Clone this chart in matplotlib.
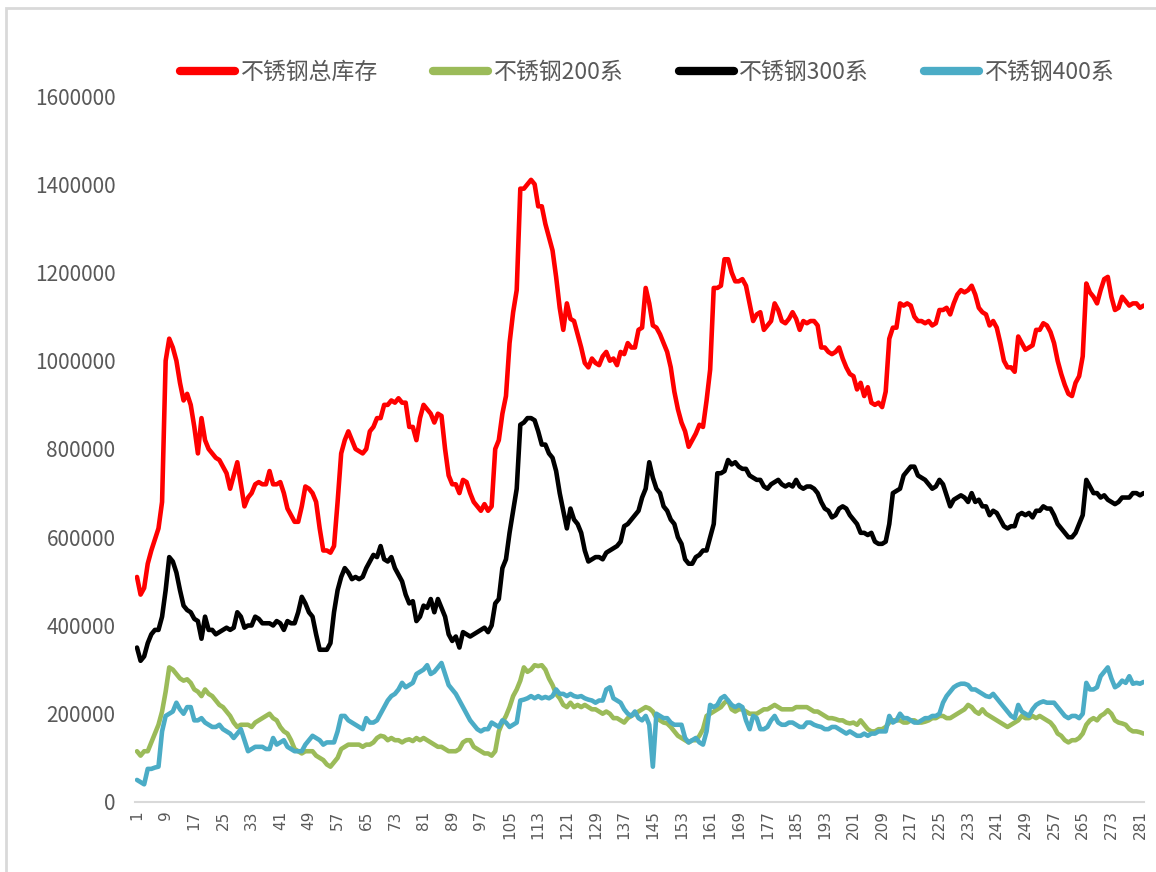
import matplotlib
matplotlib.use('Agg')
import matplotlib.pyplot as plt
import matplotlib.patches as patches
import matplotlib.ticker as ticker
import numpy as np

plt.rcParams['font.family'] = ['Noto Sans CJK SC', 'DejaVu Sans']

# 数据单位：千吨 -> 绘图时 *1000
total = [510, 470, 485, 540, 570, 595, 620, 680, 1000, 1050,
         1030, 1000, 950, 910, 925, 900, 850, 790, 870, 820,
         800, 790, 780, 775, 760, 745, 710, 740, 770, 720,
         670, 690, 700, 720, 725, 720, 720, 750, 720, 720,
         725, 700, 665, 650, 635, 635, 670, 715, 710, 700,
         680, 620, 570, 570, 565, 580, 680, 790, 820, 840,
         820, 800, 795, 790, 800, 840, 850, 870, 870, 900,
         900, 910, 905, 915, 905, 905, 850, 850, 820, 870,
         900, 890, 880, 860, 880, 875, 800, 740, 720, 720,
         700, 730, 725, 700, 680, 670, 660, 675, 660, 670,
         800, 820, 880, 920, 1040, 1110, 1160, 1390, 1390, 1400,
         1410, 1400, 1350, 1350, 1310, 1280, 1250, 1190, 1120, 1070,
         1130, 1095, 1090, 1060, 1030, 995, 985, 1005, 995, 990,
         1010, 1020, 1000, 1005, 990, 1020, 1015, 1040, 1030, 1030,
         1070, 1075, 1165, 1130, 1080, 1075, 1060, 1040, 1020, 985,
         930, 890, 860, 840, 805, 820, 835, 855, 850, 910,
         980, 1165, 1165, 1170, 1230, 1230, 1200, 1180, 1180, 1185,
         1170, 1130, 1090, 1105, 1110, 1070, 1080, 1090, 1130, 1115,
         1090, 1085, 1095, 1110, 1095, 1070, 1090, 1085, 1090, 1090,
         1080, 1030, 1030, 1020, 1015, 1020, 1030, 1005, 985, 970,
         965, 935, 950, 920, 940, 905, 900, 905, 895, 930,
         1050, 1075, 1075, 1130, 1125, 1130, 1125, 1100, 1090, 1090,
         1085, 1090, 1080, 1085, 1115, 1115, 1120, 1105, 1130, 1150,
         1160, 1155, 1160, 1170, 1150, 1120, 1110, 1105, 1080, 1090,
         1075, 1040, 1000, 985, 985, 975, 1055, 1040, 1025, 1030,
         1035, 1070, 1070, 1085, 1080, 1065, 1040, 1000, 970, 945,
         925, 920, 950, 965, 1010, 1175, 1155, 1145, 1130, 1160,
         1185, 1190, 1145, 1115, 1120, 1145, 1135, 1125, 1130, 1130,
         1120, 1125]

s200 = [115, 105, 115, 115, 135, 155, 175, 205, 250, 305,
        300, 290, 280, 275, 278, 270, 255, 250, 240, 255,
        245, 240, 230, 220, 215, 205, 195, 180, 170, 175,
        175, 175, 170, 180, 185, 190, 195, 200, 190, 185,
        170, 160, 155, 140, 120, 115, 110, 115, 115, 115,
        105, 100, 95, 85, 80, 90, 100, 120, 125, 130,
        130, 130, 130, 125, 130, 130, 135, 145, 150, 148,
        140, 145, 140, 140, 135, 140, 142, 138, 145, 140,
        145, 140, 135, 130, 125, 125, 120, 115, 115, 115,
        120, 135, 140, 140, 125, 120, 115, 110, 110, 105,
        115, 160, 180, 195, 215, 240, 255, 275, 305, 295,
        300, 310, 308, 310, 300, 280, 265, 245, 235, 220,
        215, 225, 215, 220, 215, 220, 215, 210, 210, 205,
        200, 205, 200, 190, 190, 185, 180, 190, 195, 200,
        205, 210, 215, 212, 205, 190, 185, 180, 178, 170,
        160, 150, 145, 140, 135, 140, 140, 150, 165, 195,
        200, 205, 210, 215, 225, 230, 210, 205, 210, 210,
        205, 200, 200, 200, 205, 210, 210, 215, 220, 215,
        210, 210, 210, 210, 215, 215, 215, 215, 210, 205,
        205, 200, 195, 190, 190, 188, 185, 185, 180, 178,
        180, 175, 185, 175, 165, 160, 160, 165, 165, 170,
        180, 185, 185, 185, 180, 180, 185, 185, 180, 180,
        182, 185, 190, 190, 195, 195, 190, 190, 195, 200,
        205, 210, 220, 215, 205, 200, 210, 200, 195, 190,
        185, 180, 175, 170, 175, 180, 185, 195, 190, 190,
        195, 190, 195, 190, 185, 180, 170, 155, 150, 140,
        135, 140, 140, 145, 155, 175, 185, 190, 185, 195,
        200, 208, 200, 185, 180, 178, 175, 165, 160, 160,
        158, 155]

s300 = [350, 320, 330, 360, 380, 390, 390, 420, 480, 555,
        545, 520, 480, 445, 435, 430, 415, 410, 370, 420,
        390, 390, 380, 385, 390, 395, 390, 395, 430, 420,
        395, 400, 400, 420, 415, 405, 405, 405, 400, 410,
        405, 390, 410, 405, 405, 430, 465, 450, 430, 420,
        380, 345, 345, 345, 360, 430, 480, 510, 530, 520,
        505, 510, 505, 510, 530, 545, 560, 555, 580, 550,
        545, 555, 530, 515, 500, 470, 450, 455, 410, 420,
        445, 440, 460, 430, 460, 440, 420, 380, 365, 375,
        350, 385, 380, 375, 380, 385, 390, 395, 385, 400,
        450, 460, 530, 550, 610, 660, 710, 855, 860, 870,
        870, 865, 840, 810, 810, 790, 780, 750, 700, 660,
        620, 665, 640, 630, 610, 570, 545, 550, 555, 555,
        550, 565, 570, 575, 580, 590, 625, 630, 640, 650,
        660, 690, 710, 770, 735, 710, 700, 670, 660, 640,
        630, 600, 585, 550, 540, 540, 555, 560, 570, 570,
        600, 630, 745, 745, 750, 775, 765, 770, 760, 755,
        755, 740, 735, 730, 730, 715, 710, 720, 725, 730,
        720, 715, 720, 715, 730, 715, 710, 715, 715, 710,
        700, 680, 665, 660, 645, 650, 665, 670, 665, 650,
        640, 630, 610, 610, 605, 610, 590, 585, 585, 590,
        630, 700, 705, 710, 740, 750, 760, 760, 740, 735,
        730, 720, 710, 715, 730, 720, 695, 670, 685, 690,
        695, 690, 680, 700, 680, 685, 670, 670, 650, 660,
        655, 640, 625, 620, 625, 625, 650, 655, 650, 655,
        645, 660, 660, 670, 665, 665, 650, 630, 620, 610,
        600, 600, 610, 630, 650, 730, 715, 700, 700, 690,
        695, 685, 680, 675, 680, 690, 690, 690, 700, 700,
        695, 700]

s400 = [50, 45, 40, 75, 75, 78, 80, 160, 195, 200,
        205, 225, 210, 200, 215, 215, 185, 185, 190, 180,
        175, 170, 170, 175, 165, 160, 155, 145, 155, 165,
        140, 115, 120, 125, 125, 125, 120, 120, 145, 130,
        135, 140, 125, 120, 115, 115, 115, 130, 140, 150,
        145, 140, 130, 135, 135, 135, 160, 195, 195, 185,
        180, 175, 170, 165, 190, 180, 180, 185, 200, 215,
        230, 240, 245, 255, 270, 260, 265, 270, 290, 295,
        300, 310, 290, 295, 305, 315, 290, 265, 255, 245,
        230, 215, 200, 185, 175, 165, 160, 165, 165, 180,
        175, 170, 185, 180, 170, 175, 180, 230, 232, 235,
        240, 235, 240, 235, 238, 235, 240, 255, 245, 245,
        240, 245, 240, 238, 240, 235, 232, 230, 225, 230,
        230, 255, 260, 235, 230, 225, 210, 200, 195, 205,
        190, 185, 195, 175, 80, 200, 195, 190, 190, 180,
        175, 175, 175, 145, 135, 140, 145, 135, 130, 160,
        220, 215, 220, 235, 240, 230, 220, 215, 220, 215,
        185, 165, 195, 190, 165, 165, 170, 185, 195, 180,
        175, 175, 180, 180, 175, 170, 170, 180, 180, 175,
        172, 170, 165, 165, 170, 170, 165, 160, 155, 160,
        155, 150, 150, 155, 150, 155, 155, 160, 160, 160,
        195, 180, 185, 200, 190, 190, 185, 180, 180, 185,
        190, 190, 195, 195, 200, 225, 240, 250, 260, 265,
        268, 268, 265, 255, 255, 250, 245, 240, 238, 245,
        235, 225, 215, 205, 195, 190, 220, 205, 200, 195,
        210, 220, 225, 228, 225, 225, 225, 215, 205, 195,
        190, 195, 195, 190, 200, 270, 255, 255, 260, 285,
        295, 305, 280, 260, 265, 275, 270, 285, 268, 270,
        268, 272]

labels = ['不锈钢总库存', '不锈钢200系', '不锈钢300系', '不锈钢400系']
colors = ['#ff0000', '#9bbb59', '#000000', '#4bacc6']

x = np.arange(1, len(total) + 1)

fig = plt.figure(figsize=(11.56, 8.72), dpi=100)
ax = fig.add_axes([0.1168, 0.0803, 0.8728, 0.8096])

# 绘制顺序：总库存、200、300、400
for data, lab, c in zip([total, s200, s300, s400], labels, colors):
    ax.plot(x, np.array(data) * 1000, color=c, lw=3.3, label=lab,
            solid_joinstyle='round', solid_capstyle='round')

ax.set_xlim(0.45, 282.1)
ax.set_ylim(0, 1600000)
ax.set_yticks(np.arange(0, 1600001, 200000))
ax.yaxis.set_major_formatter(ticker.FuncFormatter(lambda v, p: '%d' % v))
ax.set_xticks(np.arange(1, 282, 8))
ax.set_xticklabels([str(i) for i in range(1, 282, 8)], rotation=90,
                   family='DejaVu Sans', fontsize=11)
ax.tick_params(axis='both', length=0, colors='#595959')
ax.tick_params(axis='y', labelsize=15, pad=14)
ax.tick_params(axis='x', pad=6)
for s in ['top', 'right', 'left']:
    ax.spines[s].set_visible(False)
ax.spines['bottom'].set_color('#d9d9d9')
ax.spines['bottom'].set_linewidth(1.5)

leg = fig.legend(loc='center', bbox_to_anchor=(0.56, 0.917), ncol=4,
                 frameon=False, fontsize=16.5, handlelength=2.4,
                 handletextpad=0.25, columnspacing=2.4)
for t in leg.get_texts():
    t.set_color('#595959')
for h in leg.legend_handles:
    h.set_linewidth(6)

# 图表区外框
fig.patches.append(patches.Rectangle((6 / 1156, -0.1), 1.2, 1.1 - 8 / 872,
                                     transform=fig.transFigure, fill=False,
                                     edgecolor='#d9d9d9', lw=2))

fig.savefig('out.png', dpi=100)
